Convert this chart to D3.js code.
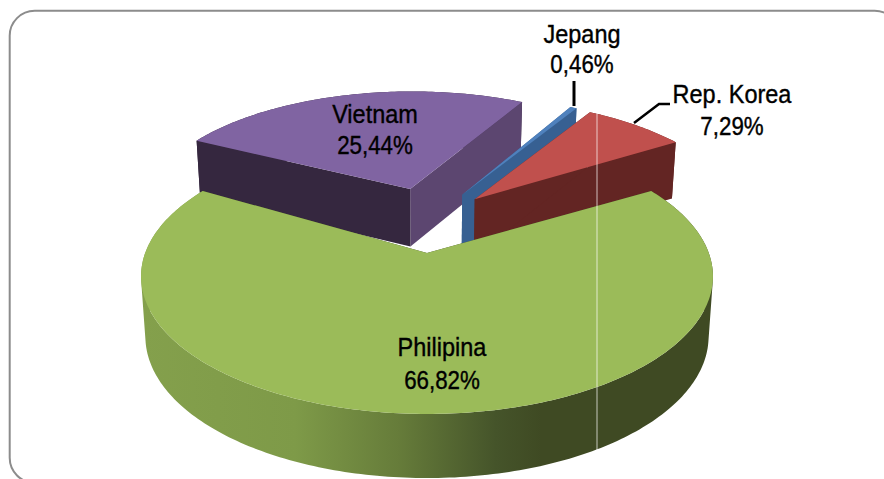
<!DOCTYPE html>
<html><head><meta charset="utf-8">
<script src="https://cdn.jsdelivr.net/npm/d3@7"></script>
<style>html,body{margin:0;padding:0;background:#fff}svg{display:block}</style>
</head><body><svg id="c" width="884" height="479"></svg>
<script>
// data
const categories = ["Philipina","Vietnam","Jepang","Rep. Korea"];
const shares = [66.82,25.44,0.46,7.29];

// styling and layout (not data)
const topColors = ["#9BBB59","#8064A2","#4F81BD","#C0504D"];
const explode = [0.26,0.27,0.25,0.25];
const tiltDeg = [0,-3,-2.5,-2];
const W=884,H=479;
const cx=427, persp=0.17;
const topPlane={cy:253,A:281.8,B:133.6}, basePlane={cy:312.4,A:277.5,B:137.5};
const startDeg=59.75;
const origin={v:0,u:-0.26};
const project=(v,u,d)=>{
  const w=1-persp*u, P=d?basePlane:topPlane;
  return [cx+P.A*v/w, P.cy+P.B*u/w];
};

const svg=d3.select("#c");
const defs=svg.append("defs");
const grad=defs.append("linearGradient").attr("id","gw").attr("gradientUnits","userSpaceOnUse")
  .attr("x1",141).attr("x2",713).attr("y1",0).attr("y2",0);
[[0,"#84A04C"],[0.27,"#7E9A48"],[0.45,"#667C3A"],[0.62,"#45542A"],[0.7,"#3F4A23"],[1,"#3F4A23"]]
  .forEach(s=>grad.append("stop").attr("offset",s[0]).attr("stop-color",s[1]));

// frame
svg.append("rect").attr("x",9.7).attr("y",10.8).attr("width",890).attr("height",472).attr("rx",25)
  .attr("fill","#fff").attr("stroke","#8C8C8C").attr("stroke-width",2);

const pie=d3.pie().sort(null).value(d=>d)
  .startAngle(startDeg*Math.PI/180).endAngle(startDeg*Math.PI/180+2*Math.PI);
const arcs=pie(shares);
const line=d3.line();

const geo=arcs.map((a,i)=>{
  const mid=(a.startAngle+a.endAngle)/2;
  const ox=origin.v+explode[i]*Math.sin(mid), oy=origin.u-explode[i]*Math.cos(mid);
  const n=Math.max(2,Math.ceil((a.endAngle-a.startAngle)*60));
  const tilt=tiltDeg[i]*Math.PI/180;
  const ang=d3.range(n+1).map(k=>tilt+a.startAngle+(a.endAngle-a.startAngle)*k/n);
  const rim=ang.map(t=>[ox+Math.sin(t),oy-Math.cos(t)]);
  return {i,ox,oy,rim};
});
const styles={0:{wall:"url(#gw)",first:"#3F4A23",last:"#3F4A23"},1:{wall:"#35273F",first:"#35273F",last:"#5C4670"},
 2:{wall:"#376092",first:"#376092",last:"#376092"},3:{wall:"#632523",first:"#632523",last:"#632523"}};

const g=svg.append("g");
[1,2,3,0].forEach(i=>{
  const s=geo[i],st=styles[i];
  const at=(p,d)=>project(p[0],p[1],d);
  const ap=[s.ox,s.oy],first=s.rim[0],last=s.rim[s.rim.length-1];
  // rim wall: one path of quads, so the silhouette tangents between the two rims are filled
  const quads=d3.pairs(s.rim).map(([p,q])=>{
    const poly=[at(p,0),at(q,0),at(q,1),at(p,1)];
    return line(d3.polygonArea(poly)<0?poly.reverse():poly)+"Z";
  }).join("");
  g.append("path").attr("fill",st.wall).attr("fill-rule","nonzero").attr("d",quads);
  // radial faces
  g.append("path").attr("fill",st.last).attr("d",line([at(ap,0),at(last,0),at(last,1),at(ap,1)])+"Z");
  g.append("path").attr("fill",st.first).attr("d",line([at(ap,0),at(first,0),at(first,1),at(ap,1)])+"Z");
  // top
  g.append("path").attr("fill",topColors[i])
   .attr("d",line([at(ap,0)].concat(s.rim.map(p=>at(p,0))))+"Z");
});

// thin light vertical line
svg.append("line").attr("x1",597).attr("x2",597).attr("y1",111).attr("y2",451)
  .attr("stroke","#fff").attr("stroke-opacity",0.7).attr("stroke-width",1);

// leader lines
svg.append("path").attr("d",line([[574,81],[574,106]])).attr("fill","none").attr("stroke","#000").attr("stroke-width",3);
svg.append("path").attr("d",line([[634,123],[659,104],[670,104]])).attr("fill","none").attr("stroke","#000").attr("stroke-width",2.5);

// labels
const labelAt=[[442,356,389],[375,123,154],[582,43,73],[732,103,135]];
const pct=v=>d3.format(".2f")(v).replace(".",",")+"%";
categories.forEach((c,i)=>{
  const [x,y1,y2]=labelAt[i];
  [[c,y1,1],[pct(shares[i]),y2,0.95]].forEach(([t,y,sx])=>{
    svg.append("text").attr("transform",`translate(${x},${y}) scale(${sx},1.1)`)
     .attr("text-anchor","middle").attr("font-family","'Liberation Sans',Arial,sans-serif")
     .attr("font-size",23.5).attr("fill","#000").attr("stroke","#000").attr("stroke-width",0.35).text(t);
  });
});
</script></body></html>
